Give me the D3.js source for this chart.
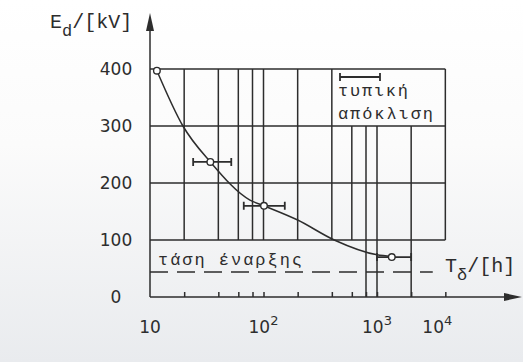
<!DOCTYPE html>
<html>
<head>
<meta charset="utf-8">
<script src="https://cdn.jsdelivr.net/npm/d3@7"></script>
<style>
  body { margin: 0; background: #fff; }
  svg { display: block; }
</style>
</head>
<body>
<div id="chart"></div>
<script>
// measured points (time to breakdown in h, field in kV) with std-dev bars
const pointTime = [11.5, 34, 101, 1350];
const pointVolt = [397, 237, 160, 70];
const errLow = [null, 24, 67, 1000];
const errHigh = [null, 52, 154, 2000];

// fitted curve
const curveTime = [11.5, 19.5, 34, 76, 101, 200, 420, 1000, 1350];
const curveVolt = [397, 300, 237, 170, 160, 135, 100, 74, 71];

// inception voltage (dashed)
const inceptionVolt = 44;
const inceptionEnd = 3100;

const yTicks = [0, 100, 200, 300, 400];
const xTicks = [20, 40, 60, 80, 100, 200, 400, 600, 800, 1000, 2000, 4000];
const xLabelValues = [10, 100, 1000, 3400];
const xLabelBase = ["10", "10", "10", "10"];
const xLabelExp = ["", "2", "3", "4"];

// grid verticals: time, from kV, to kV
const gridTime = [20, 40, 60, 80, 100, 200, 400, 600, 800, 1000, 2000, 4000];
const gridFrom = [100, 100, 100, 100, 100, 100, 100, 100, 0, 0, 0, 100];
const gridTo   = [400, 400, 400, 400, 400, 400, 400, 300, 300, 300, 300, 400];
const gridVolt = [100, 200, 300, 400];

const svgWidth = 523;
const svgHeight = 362;
const ink = "#2d2d2d";

const svg = d3.select("#chart")
    .append("svg")
    .attr("width", svgWidth)
    .attr("height", svgHeight);

const grad = svg.append("defs").append("linearGradient")
    .attr("id", "paper")
    .attr("x1", 0).attr("y1", 0).attr("x2", 0).attr("y2", 1);
grad.append("stop").attr("offset", "0%").attr("stop-color", "#ffffff");
grad.append("stop").attr("offset", "40%").attr("stop-color", "#fbfbfb");
grad.append("stop").attr("offset", "100%").attr("stop-color", "#e9ebee");

svg.append("rect")
    .attr("width", svgWidth)
    .attr("height", svgHeight)
    .attr("fill", "url(#paper)");

const x = d3.scaleLog().domain([10, 1000]).range([150, 377]);
const y = d3.scaleLinear().domain([0, 400]).range([297, 69]);

const g = svg.append("g")
    .attr("stroke", ink)
    .attr("stroke-width", 1.5)
    .attr("fill", "none");

// horizontal grid
g.selectAll(".hgrid")
    .data(gridVolt)
    .enter()
    .append("line")
    .attr("class", "hgrid")
    .attr("x1", x(10))
    .attr("x2", x(4000))
    .attr("y1", d => y(d))
    .attr("y2", d => y(d));

// vertical grid
g.selectAll(".vgrid")
    .data(gridTime)
    .enter()
    .append("line")
    .attr("class", "vgrid")
    .attr("x1", d => x(d))
    .attr("x2", d => x(d))
    .attr("y1", (d, i) => y(gridFrom[i]))
    .attr("y2", (d, i) => y(gridTo[i]));

// inception voltage, dashed
g.append("line")
    .attr("x1", x(10))
    .attr("x2", x(inceptionEnd))
    .attr("y1", y(inceptionVolt))
    .attr("y2", y(inceptionVolt))
    .attr("stroke-dasharray", "18,9");

// axes with arrows
g.append("line")
    .attr("x1", x(10)).attr("x2", x(10))
    .attr("y1", y(0)).attr("y2", 26);
g.append("line")
    .attr("x1", x(10)).attr("x2", 510)
    .attr("y1", y(0)).attr("y2", y(0));
svg.append("path")
    .attr("d", `M${x(10)},13 L${x(10) - 4},31 L${x(10) + 4},31 Z`)
    .attr("fill", ink);
svg.append("path")
    .attr("d", `M522,${y(0)} L504,${y(0) - 4} L504,${y(0) + 4} Z`)
    .attr("fill", ink);

// x ticks, pointing up
svg.append("g")
    .attr("transform", "translate(0," + y(0) + ")")
    .call(d3.axisBottom(x).tickValues(xTicks).tickSize(-5).tickFormat(""))
    .call(a => a.select(".domain").remove())
    .selectAll("line")
    .attr("stroke", ink)
    .attr("stroke-width", 1.5);

// x tick labels with exponents
const xl = svg.selectAll(".xlab")
    .data(xLabelValues)
    .enter()
    .append("text")
    .attr("class", "xlab")
    .attr("x", d => x(d))
    .attr("y", 333)
    .attr("text-anchor", "middle")
    .attr("font-family", "DejaVu Sans")
    .attr("font-size", 17)
    .attr("fill", ink);
xl.append("tspan").text((d, i) => xLabelBase[i]);
xl.append("tspan")
    .attr("dy", -8)
    .attr("font-size", 13)
    .text((d, i) => xLabelExp[i]);

// y axis labels
svg.append("g")
    .attr("transform", "translate(" + x(10) + ",0)")
    .call(d3.axisLeft(y).tickValues(yTicks).tickSize(0).tickPadding(34))
    .call(a => a.select(".domain").remove())
    .selectAll("text")
    .attr("text-anchor", "middle")
    .attr("font-family", "DejaVu Sans")
    .attr("font-size", 17)
    .attr("fill", ink);

// fitted curve
const line = d3.line()
    .x((d, i) => x(curveTime[i]))
    .y(d => y(d))
    .curve(d3.curveMonotoneX);
g.append("path")
    .attr("d", line(curveVolt));

// error bars
const bars = pointTime.map((t, i) => i).filter(i => errLow[i] !== null);
g.selectAll(".err")
    .data(bars)
    .enter()
    .append("path")
    .attr("class", "err")
    .attr("stroke-width", 1.8)
    .attr("d", i => {
      const x0 = x(errLow[i]), x1 = x(errHigh[i]), yy = y(pointVolt[i]);
      return `M${x0},${yy - 4}V${yy + 4}M${x0},${yy}H${x1}M${x1},${yy - 4}V${yy + 4}`;
    });

// points
svg.selectAll(".pt")
    .data(pointVolt)
    .enter()
    .append("circle")
    .attr("class", "pt")
    .attr("cx", (d, i) => x(pointTime[i]))
    .attr("cy", d => y(d))
    .attr("r", 3.3)
    .attr("fill", "#fff")
    .attr("stroke", ink)
    .attr("stroke-width", 1.4);

// legend: std deviation symbol
g.append("path")
    .attr("stroke-width", 1.8)
    .attr("d", "M340,73V81M340,77H380M380,73V81");

const mono = "Liberation Mono";
svg.append("text")
    .attr("x", 338).attr("y", 96)
    .attr("font-family", mono).attr("font-size", 17)
    .attr("textLength", 70).attr("lengthAdjust", "spacing")
    .attr("fill", ink)
    .text("τυπική");
svg.append("text")
    .attr("x", 338).attr("y", 119)
    .attr("font-family", mono).attr("font-size", 17)
    .attr("textLength", 95).attr("lengthAdjust", "spacing")
    .attr("fill", ink)
    .text("απόκλιση");
svg.append("text")
    .attr("x", 158).attr("y", 265)
    .attr("font-family", mono).attr("font-size", 17)
    .attr("textLength", 144).attr("lengthAdjust", "spacing")
    .attr("fill", ink)
    .text("τάση έναρξης");

// axis titles
const yt = svg.append("text")
    .attr("x", 50).attr("y", 28)
    .attr("font-family", mono).attr("font-size", 20)
    .attr("fill", ink);
yt.append("tspan").text("E");
yt.append("tspan").attr("dy", 8).attr("font-size", 17).text("d");
yt.append("tspan").attr("dy", -8).text("/[kV]");

const xt = svg.append("text")
    .attr("x", 445).attr("y", 272)
    .attr("font-family", mono).attr("font-size", 20)
    .attr("fill", ink);
xt.append("tspan").text("T");
xt.append("tspan").attr("dy", 8).attr("font-size", 17).text("δ");
xt.append("tspan").attr("dy", -8).text("/[h]");
</script>
</body>
</html>
